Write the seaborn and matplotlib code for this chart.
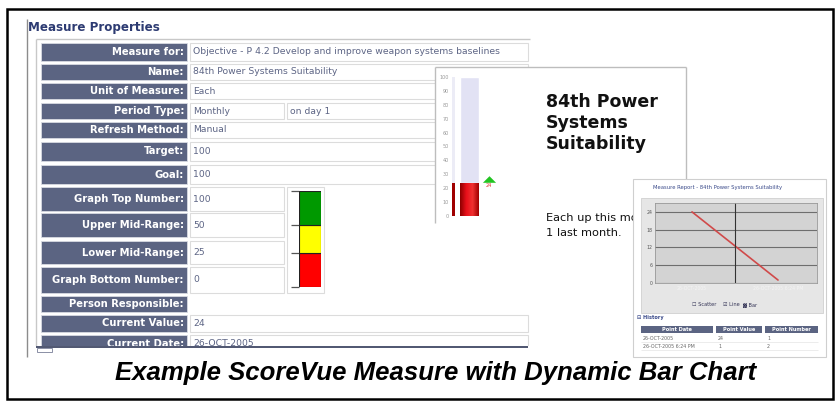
import numpy as np
import matplotlib
matplotlib.use("Agg")
import matplotlib.pyplot as plt
import matplotlib.patches as mpatches
from matplotlib.colors import LinearSegmentedColormap
import seaborn as sns

# ---- data ----
field_labels = ["Measure for:", "Name:", "Unit of Measure:", "Period Type:", "Refresh Method:",
                "Target:", "Goal:", "Graph Top Number:", "Upper Mid-Range:", "Lower Mid-Range:",
                "Graph Bottom Number:", "Person Responsible:", "Current Value:", "Current Date:"]
field_values = ["Objective - P 4.2 Develop and improve weapon systems baselines",
                "84th Power Systems Suitability", "Each", "Monthly", "Manual",
                "100", "100", "100", "50", "25", "0", "", "24", "26-OCT-2005"]
period_extra = "on day 1"

gauge_stops = [0, 25, 50, 100]
gauge_colors = ["#ff0000", "#ffff00", "#009900"]

bar_ticks = list(range(0, 101, 10))
current_value = 24
graph_top = 100
measure_name = ["84th Power", "Systems", "Suitability"]
blurb = ["Each up this mo", "1 last month."]   # cut off by the report card on top

point_dates = ["26-OCT-2005", "26-OCT-2005 6:24 PM"]
point_values = [24, 1]
point_numbers = [1, 2]
line_ticks = [0, 6, 12, 18, 24]

caption = "Example ScoreVue Measure with Dynamic Bar Chart"

# ---- layout (pixels) ----
W, H = 836, 407
row_spans = [(43, 61), (64, 80), (83, 99), (103, 119), (122, 138), (142, 161), (165, 184),
             (187, 211), (213, 237), (241, 264), (267, 293), (296, 312), (315, 332), (335, 353)]
special_cells = {3: [(190, 284), (287, 528)], 7: [(190, 284)], 8: [(190, 284)],
                 9: [(190, 284)], 10: [(190, 284)], 11: []}

LABEL_BG = "#5b6482"
VALUE_FG = "#5d6585"
NAVY = "#2d3b72"

sns.set_style("white")
plt.rcParams["font.family"] = ["DejaVu Sans"]
plt.rcParams["text.color"] = "black"

fig = plt.figure(figsize=(W / 100, H / 100), dpi=100)
bg = fig.add_axes([0, 0, 1, 1])
bg.set_xlim(0, W)
bg.set_ylim(H, 0)
bg.axis("off")


def rect(x0, y0, x1, y1, fc="white", ec="none", lw=0.8, z=1):
    bg.add_patch(mpatches.Rectangle((x0, y0), x1 - x0, y1 - y0, facecolor=fc,
                                    edgecolor=ec, linewidth=lw, zorder=z))


def line(xs, ys, c="#bbbbbb", lw=0.8, z=2):
    bg.plot(xs, ys, color=c, lw=lw, zorder=z, solid_capstyle="butt")


def px_axes(x0, y0, x1, y1):
    return fig.add_axes([x0 / W, 1 - y1 / H, (x1 - x0) / W, (y1 - y0) / H])


# ---- Measure Properties panel ----
bg.text(28, 28, "Measure Properties", color=NAVY, fontsize=8.6, fontweight="bold",
        va="center", ha="left", zorder=3)
line([36, 36], [39, 351], c="#c8c8c8", lw=1)
line([36, 530], [39, 39], c="#c8c8c8", lw=1)

for i, (lab, val) in enumerate(zip(field_labels, field_values)):
    y0, y1 = row_spans[i]
    ym = (y0 + y1) / 2
    rect(41, y0, 187, y1, fc=LABEL_BG, ec="#d8dae2", lw=0.6, z=2)
    bg.text(184, ym, lab, color="white", fontsize=7.2, fontweight="bold",
            ha="right", va="center", zorder=3)
    cells = special_cells.get(i, [(190, 528)])
    for j, (cx0, cx1) in enumerate(cells):
        rect(cx0, y0, cx1, y1, fc="white", ec="#dcdcdc", lw=0.8, z=2)
        txt = val if j == 0 else period_extra
        bg.text(cx0 + 3, ym, txt, color=VALUE_FG, fontsize=6.7, ha="left",
                va="center", zorder=3)

# gauge cell
rect(287, 187, 324, 293, fc="white", ec="#dcdcdc", lw=0.8, z=2)

# scroll bar / clipping at bottom of the panel
rect(29, 346, 533, 360, fc="white", z=5)
line([36, 528], [346.5, 346.5], c="#4e5570", lw=1.4, z=6)
rect(37, 347.5, 52, 352, fc="white", ec="#8a8fa5", lw=0.7, z=6)
line([27, 27], [19, 357], c="#8c8c8c", lw=1, z=6)

# ---- bar chart card ----
rect(435, 67, 686, 252, fc="white", z=10)
line([435, 686], [67, 67], c="#bdbdbd", lw=1, z=11)
line([435, 435], [67, 223], c="#bdbdbd", lw=1, z=11)
line([686, 686], [67, 252], c="#bdbdbd", lw=1, z=11)
for k, t in enumerate(measure_name):
    bg.text(546, 102 + 21 * k, t, fontsize=12.5, fontweight="bold", color="#111111",
            ha="left", va="center", zorder=12)
for k, t in enumerate(blurb):
    bg.text(546, 218 + 15 * k, t, fontsize=8.2, color="#111111", ha="left",
            va="center", zorder=12)

# ---- line chart card ----
rect(633, 179, 826, 357, fc="white", ec="#cfcfcf", lw=0.8, z=20)
bg.text(653, 188, "Measure Report - 84th Power Systems Suitability", fontsize=3.8,
        color="#3a4a8a", ha="left", va="center", zorder=21)
rect(641, 198, 823, 313, fc="#e6e6e6", ec="#d0d0d0", lw=0.6, z=21)
for xx, t in [(704, "\u2610 Scatter"), (731, "\u2611 Line"), (750, "\u2593 Bar")]:
    bg.text(xx, 305, t, fontsize=3.6, color="#333355", ha="center", va="center", zorder=22)
bg.text(637, 318, "\u229f History", fontsize=3.6, color="#3a4a8a", fontweight="bold",
        ha="left", va="center", zorder=22)
head_cells = [(641, 713), (716, 762), (765, 818)]
for (hx0, hx1), t in zip(head_cells, ["Point Date", "Point Value", "Point Number"]):
    rect(hx0, 326, hx1, 333, fc=LABEL_BG, z=22)
    bg.text((hx0 + hx1) / 2, 329.5, t, fontsize=3.6, color="white", fontweight="bold",
            ha="center", va="center", zorder=23)
for r, (d, v, n) in enumerate(zip(point_dates, point_values, point_numbers)):
    yy = 338 + 8 * r
    line([641, 818], [yy + 4, yy + 4], c="#e4e4e4", lw=0.5, z=22)
    for (hx0, hx1), t in zip(head_cells, [d, str(v), str(n)]):
        bg.text(hx0 + 2, yy, t, fontsize=3.4, color="#666666", ha="left",
                va="center", zorder=23)

# ---- outer frame and caption ----
rect(7, 9, 833, 399, fc="none", ec="black", lw=1.8, z=30)
bg.text(436, 373, caption, fontsize=18.5, fontweight="bold", fontstyle="italic",
        color="black", family=["Liberation Sans", "DejaVu Sans"], ha="center",
        va="center", zorder=30)

# ---- gauge (stacked bands) ----
ax_g = px_axes(299, 191, 321, 287)
fwd_px = [0, 34, 62, 96]
ax_g.set_yscale("function", functions=(lambda v: np.interp(v, gauge_stops, fwd_px),
                                       lambda p: np.interp(p, fwd_px, gauge_stops)))
for lo, hi, c in zip(gauge_stops[:-1], gauge_stops[1:], gauge_colors):
    ax_g.bar(0, hi - lo, bottom=lo, width=1, color=c, edgecolor="#222222", linewidth=0.8)
ax_g.set_xlim(-0.5, 0.5)
ax_g.set_ylim(gauge_stops[0], gauge_stops[-1])
ax_g.set_yticks(gauge_stops)
ax_g.set_yticklabels([])
ax_g.set_xticks([])
ax_g.tick_params(axis="y", length=5.8, width=0.9, color="#555555", left=True)
for s in ax_g.spines.values():
    s.set_visible(False)
ax_g.patch.set_alpha(0)

# ---- dynamic bar chart ----
ax_b = px_axes(450, 77, 500, 216)
sns.barplot(x=["level"], y=[graph_top], color="#e2e2f4", width=0.38, ax=ax_b,
            saturation=1)
sns.barplot(x=["level"], y=[current_value], color="#cc0000", width=0.38, ax=ax_b,
            saturation=1)
bar = ax_b.patches[-1]
grad = LinearSegmentedColormap.from_list("redbar", ["#8e0000", "#e8101a", "#f03030", "#a00000"])
img = ax_b.imshow(np.linspace(0, 1, 64)[None, :], cmap=grad, aspect="auto",
                  extent=[bar.get_x(), bar.get_x() + bar.get_width(), 0, bar.get_height()],
                  zorder=3)
img.set_clip_path(bar)
ax_b.axvspan(-0.36, -0.30, ymax=1, color="#ececf6", lw=0)
ax_b.axvspan(-0.36, -0.30, ymax=current_value / graph_top, color="#a00000", lw=0)
ax_b.scatter([0.39], [current_value + 2.5], marker=[(-1, -0.5), (1, -0.5), (0, 0.5)],
             s=90, color="#22c422", zorder=4, linewidths=0)
ax_b.text(0.39, current_value - 2, str(current_value), fontsize=3.5, color="#dd3333",
          ha="center", va="center")
ax_b.set_xlim(-0.39, 0.61)
ax_b.set_ylim(0, graph_top)
ax_b.set_yticks(bar_ticks)
ax_b.set_yticklabels([str(t) for t in bar_ticks], fontsize=3.5, color="#999999")
ax_b.tick_params(axis="y", length=0, pad=1)
ax_b.set_xticks([])
ax_b.set_xlabel("")
ax_b.set_ylabel("")
for s in ax_b.spines.values():
    s.set_visible(False)
ax_b.patch.set_alpha(0)

# ---- history line chart ----
ax_l = px_axes(655, 203, 817, 283)
ax_l.set_facecolor("#d3d3d3")
sns.lineplot(x=point_dates, y=point_values, sort=False, color="#d04a4a", lw=1.2, ax=ax_l)
ax_l.axvline(0.5, color="#333333", lw=0.8)
ax_l.set_yticks(line_ticks)
ax_l.set_yticklabels([str(t) for t in line_ticks], fontsize=3.3, color="#555555")
ax_l.set_xticks([0, 1])
ax_l.set_xticklabels(point_dates, fontsize=3.3, color="#f4f4f4")
ax_l.tick_params(length=0, pad=2)
ax_l.grid(axis="y", color="#6e6e6e", lw=0.8)
ax_l.grid(axis="x", visible=False)
ax_l.set_xlim(-0.43, 1.453)
ax_l.set_ylim(0, 27)
ax_l.set_xlabel("")
ax_l.set_ylabel("")
for s in ax_l.spines.values():
    s.set_color("#999999")
    s.set_linewidth(0.6)

fig.savefig("out.png", dpi=100)
